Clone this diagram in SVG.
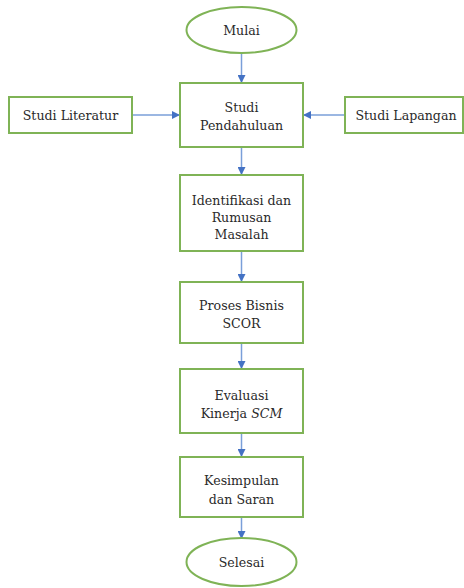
<svg xmlns="http://www.w3.org/2000/svg" width="464" height="588" viewBox="0 0 464 588">
<defs>
<marker id="ah" markerWidth="8" markerHeight="8" refX="7" refY="4" orient="auto" markerUnits="userSpaceOnUse">
<path d="M0,0 L8,4 L0,8 Z" fill="#4472C4"/>
</marker>
<style>
.n{fill:#fff;stroke:#7FB356;stroke-width:2}
.t{font-family:"DejaVu Serif",serif;font-size:12.6px;fill:#2a2a2a;text-anchor:middle}
.c{stroke:#7A9FD9;stroke-width:1.5;fill:none;marker-end:url(#ah)}
</style>
</defs>
<rect width="464" height="588" fill="#fff"/>
<g id="connectors">
<line class="c" x1="241.5" y1="53" x2="241.5" y2="82"/>
<line class="c" x1="133" y1="115" x2="179" y2="115"/>
<line class="c" x1="344" y1="115" x2="304" y2="115"/>
<line class="c" x1="241.5" y1="147" x2="241.5" y2="174"/>
<line class="c" x1="241.5" y1="251" x2="241.5" y2="281"/>
<line class="c" x1="241.5" y1="343" x2="241.5" y2="368"/>
<line class="c" x1="241.5" y1="433" x2="241.5" y2="456"/>
<line class="c" x1="241.5" y1="517" x2="241.5" y2="538"/>
</g>
<g id="mulai"><ellipse class="n" cx="241.5" cy="30" rx="55" ry="23"/><text class="t" x="241.5" y="35">Mulai</text></g>
<g id="studi-pendahuluan"><rect class="n" x="180" y="83" width="123" height="64"/><text class="t" x="241.5" y="112">Studi</text><text class="t" x="241.5" y="130">Pendahuluan</text></g>
<g id="studi-literatur"><rect class="n" x="9" y="97" width="123" height="36"/><text class="t" x="70.5" y="120">Studi Literatur</text></g>
<g id="studi-lapangan"><rect class="n" x="345" y="97" width="118" height="36"/><text class="t" x="406" y="120">Studi Lapangan</text></g>
<g id="identifikasi"><rect class="n" x="180" y="175" width="123" height="76"/><text class="t" x="241.5" y="205">Identifikasi dan</text><text class="t" x="241.5" y="222">Rumusan</text><text class="t" x="241.5" y="239">Masalah</text></g>
<g id="proses-bisnis"><rect class="n" x="180" y="282" width="123" height="61"/><text class="t" x="241.5" y="310">Proses Bisnis</text><text class="t" x="241.5" y="328">SCOR</text></g>
<g id="evaluasi"><rect class="n" x="180" y="369" width="123" height="64"/><text class="t" x="241.5" y="400">Evaluasi</text><text class="t" x="241.5" y="418">Kinerja <tspan font-style="italic">SCM</tspan></text></g>
<g id="kesimpulan"><rect class="n" x="180" y="457" width="123" height="60"/><text class="t" x="241.5" y="485">Kesimpulan</text><text class="t" x="241.5" y="504">dan Saran</text></g>
<g id="selesai"><ellipse class="n" cx="241.5" cy="562" rx="55" ry="24"/><text class="t" x="241.5" y="567">Selesai</text></g>
</svg>
